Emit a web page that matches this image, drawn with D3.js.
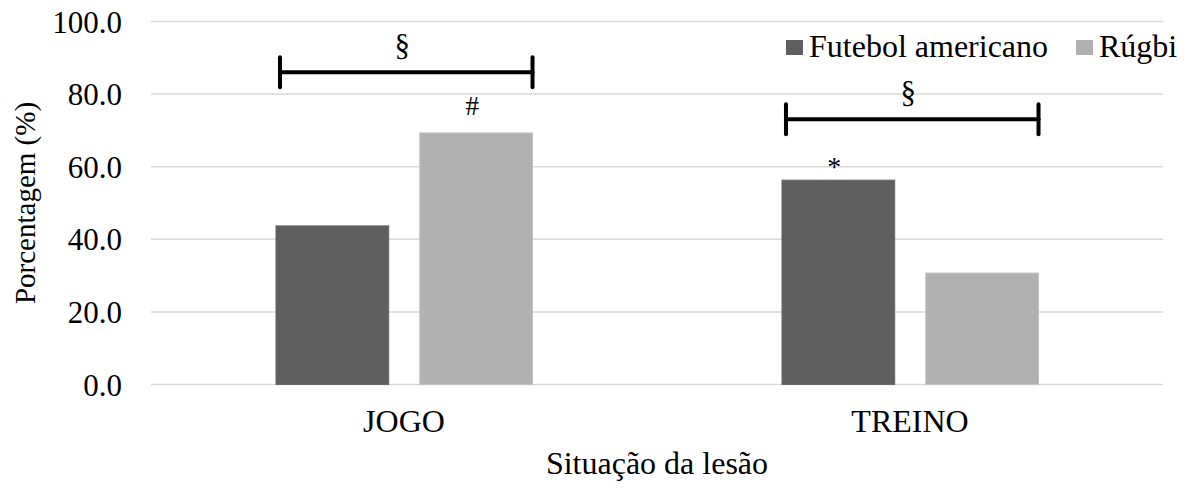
<!DOCTYPE html>
<html>
<head>
<meta charset="utf-8">
<script src="https://cdn.jsdelivr.net/npm/d3@7"></script>
<style>
  html, body { margin: 0; padding: 0; background: #fff; }
  svg text { font-family: "Liberation Serif", Tinos, "Times New Roman", Times, "DejaVu Serif", serif; fill: #000; }
</style>
</head>
<body>
<svg id="chart" width="1190" height="489"></svg>
<script>
// Situação da lesão (%) por modalidade
const categories = ["JOGO", "TREINO"];
const series = ["Futebol americano", "Rúgbi"];
const futebolValues = [43.7, 56.3];
const rugbiValues = [69.3, 30.7];
const yTicks = [0, 20, 40, 60, 80, 100];
const colors = ["#5f5f5f", "#b1b1b1"];

// significance marks: bracket across both bars of a category, and marks above single bars
const brackets = [
  { category: "JOGO", level: 86.0, symbol: "§" },
  { category: "TREINO", level: 73.1, symbol: "§" }
];
const barMarks = [
  { category: "JOGO", series: "Rúgbi", symbol: "#" },
  { category: "TREINO", series: "Futebol americano", symbol: "*" }
];

const serifFont = '"Liberation Serif", Tinos, "Times New Roman", Times, "DejaVu Serif", serif';

const valuesBySeries = { "Futebol americano": futebolValues, "Rúgbi": rugbiValues };
const rows = categories.map((c, i) => ({
  category: c,
  values: series.map(s => ({ series: s, value: valuesBySeries[s][i] }))
}));

const svg = d3.select("#chart").attr("font-family", serifFont);
const margin = { left: 151, right: 27, top: 21.5, bottom: 104.5 };
const W = 1190, H = 489;

const x0 = d3.scaleBand().domain(categories).range([margin.left, W - margin.right]).padding(0);
const x1 = d3.scaleBand().domain(series)
  .range([x0.bandwidth() * 0.247, x0.bandwidth() * 0.754]).paddingInner(0.216);
const y = d3.scaleLinear().domain([0, 100]).range([H - margin.bottom, margin.top]);
const color = d3.scaleOrdinal().domain(series).range(colors);

// gridlines
svg.append("g")
  .selectAll("line")
  .data(yTicks)
  .join("line")
  .attr("x1", margin.left)
  .attr("x2", W - margin.right)
  .attr("y1", d => y(d))
  .attr("y2", d => y(d))
  .attr("stroke", "#d9d9d9")
  .attr("stroke-width", 1.5);

// y axis labels
const yAxis = d3.axisLeft(y).tickValues(yTicks).tickFormat(d3.format(".1f")).tickSize(0).tickPadding(29);
svg.append("g")
  .attr("transform", `translate(${margin.left},0)`)
  .call(yAxis)
  .attr("font-family", serifFont)
  .call(g => g.select(".domain").remove())
  .call(g => g.selectAll("text")
    .style("font-size", "31px")
    .attr("fill", "#000")
    .attr("dy", "0.34em"));

// x axis labels
const xAxis = d3.axisBottom(x0).tickSize(0).tickPadding(25);
svg.append("g")
  .attr("transform", `translate(0,${y(0)})`)
  .call(xAxis)
  .attr("font-family", serifFont)
  .call(g => g.select(".domain").remove())
  .call(g => g.selectAll("text")
    .style("font-size", "32px")
    .attr("fill", "#000"));

// bars
const groups = svg.append("g")
  .selectAll("g")
  .data(rows)
  .join("g")
  .attr("transform", d => `translate(${x0(d.category)},0)`);

groups.selectAll("rect")
  .data(d => d.values)
  .join("rect")
  .attr("x", d => x1(d.series))
  .attr("width", x1.bandwidth())
  .attr("y", d => y(d.value))
  .attr("height", d => y(0) - y(d.value))
  .attr("fill", d => color(d.series))
  .attr("stroke", d => d3.color(color(d.series)).brighter(0.25))
  .attr("stroke-width", 1);

// brackets
const bg = svg.append("g");
brackets.forEach(b => {
  const xa = x0(b.category) + x1(series[0]) + 4;
  const xb = x0(b.category) + x1(series[1]) + x1.bandwidth();
  const yy = y(b.level);
  const g = bg.append("g")
    .attr("stroke", "#000")
    .attr("stroke-width", 4)
    .attr("stroke-linecap", "round");
  g.append("line").attr("x1", xa).attr("x2", xb).attr("y1", yy).attr("y2", yy);
  g.append("line").attr("x1", xa).attr("x2", xa).attr("y1", yy - 15).attr("y2", yy + 15);
  g.append("line").attr("x1", xb).attr("x2", xb).attr("y1", yy - 15).attr("y2", yy + 15);
  bg.append("text")
    .attr("x", (xa + xb) / 2 - 4)
    .attr("y", yy - 16)
    .attr("text-anchor", "middle")
    .style("font-size", "31px")
    .text(b.symbol);
});

// marks above bars
barMarks.forEach(m => {
  const i = categories.indexOf(m.category);
  const v = valuesBySeries[m.series][i];
  svg.append("text")
    .attr("x", x0(m.category) + x1(m.series) + x1.bandwidth() / 2 - 4)
    .attr("y", y(v) - (m.symbol === "*" ? 4 : 18))
    .attr("text-anchor", "middle")
    .style("font-size", m.symbol === "*" ? "28px" : "27px")
    .text(m.symbol);
});

// legend
const legendItems = [
  { name: series[0], x: 786 },
  { name: series[1], x: 1076 }
];
const lg = svg.append("g");
legendItems.forEach(it => {
  lg.append("rect")
    .attr("x", it.x).attr("y", 40)
    .attr("width", 17).attr("height", 15)
    .attr("fill", color(it.name));
  lg.append("text")
    .attr("x", it.x + 23).attr("y", 57)
    .style("font-size", "32px")
    .text(it.name);
});

// axis titles
svg.append("text")
  .attr("x", (margin.left + W - margin.right) / 2)
  .attr("y", 474)
  .attr("text-anchor", "middle")
  .style("font-size", "32px")
  .text("Situação da lesão");

svg.append("text")
  .attr("transform", `translate(35,${y(50)}) rotate(-90)`)
  .attr("text-anchor", "middle")
  .style("font-size", "29px")
  .text("Porcentagem (%)");
</script>
</body>
</html>
